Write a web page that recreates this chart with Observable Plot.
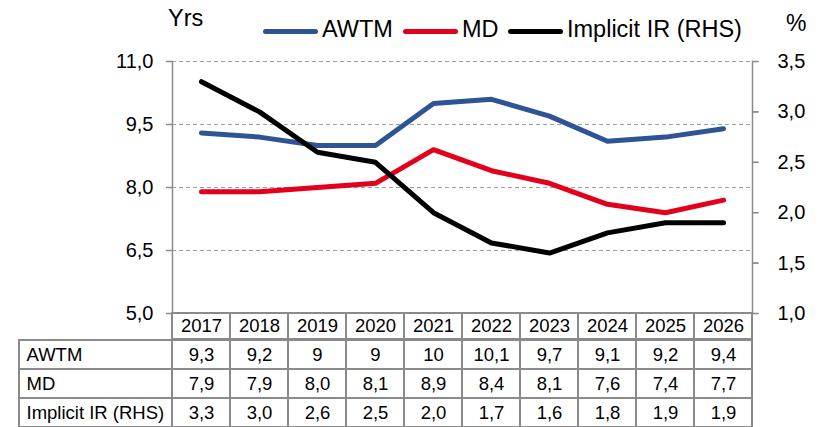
<!DOCTYPE html>
<html>
<head>
<meta charset="utf-8">
<script src="https://cdn.jsdelivr.net/npm/d3@7"></script>
<script src="https://cdn.jsdelivr.net/npm/@observablehq/plot@0.6"></script>
<style>
  html, body { margin: 0; padding: 0; background: white; }
  #wrap { position: relative; width: 823px; height: 427px; overflow: hidden; font-family: 'Liberation Sans', Arial, sans-serif; }
  #wrap svg { position: absolute; left: 0; }
  .lg { position: absolute; font-size: 23.5px; color: #000; line-height: 1; white-space: nowrap; }
  .sw { position: absolute; height: 5px; border-radius: 3px; }
</style>
</head>
<body>
<div id="wrap"></div>
<script>
const years = ["2017","2018","2019","2020","2021","2022","2023","2024","2025","2026"];
const awtm = [9.3, 9.2, 9, 9, 10, 10.1, 9.7, 9.1, 9.2, 9.4];
const md = [7.9, 7.9, 8.0, 8.1, 8.9, 8.4, 8.1, 7.6, 7.4, 7.7];
const ir = [3.3, 3.0, 2.6, 2.5, 2.0, 1.7, 1.6, 1.8, 1.9, 1.9];
const leftTicks = [5.0, 6.5, 8.0, 9.5, 11.0];
const rightTicks = [1.0, 1.5, 2.0, 2.5, 3.0, 3.5];
const seriesNames = ["AWTM", "MD", "Implicit IR (RHS)"];
const colors = ["#2E5496", "#E3001B", "#000000"];

const gray = "#8a8a8a";
const font = "'Liberation Sans', Arial, sans-serif";
const comma = v => v.toFixed(1).replace(".", ",");
// right axis (1..3.5) mapped onto left axis (5..11)
const toLeft = r => 5 + (r - 1) * 2.4;
const toRight = l => (l - 5) / 2.4 + 1;

const wrap = document.getElementById("wrap");

const rowsOf = (vals, name) => years.map((y, i) => ({year: y, v: vals[i], series: name}));
const dAWTM = rowsOf(awtm, "AWTM");
const dMD = rowsOf(md, "MD");
const dIR = rowsOf(ir, "Implicit IR (RHS)");

const main = Plot.plot({
  width: 823, height: 332,
  marginTop: 61, marginBottom: 19, marginLeft: 172, marginRight: 71,
  x: {type: "point", domain: years, padding: 0.5, axis: null},
  y: {domain: [5, 11]},
  style: {fontFamily: font, background: "transparent", color: "#000"},
  marks: [
    Plot.ruleY(leftTicks.filter(t => t > 5), {stroke: "#a0a0a0", strokeWidth: 1.2, strokeDasharray: "4,3"}),
    Plot.frame({anchor: "left", stroke: gray, strokeWidth: 1.5}),
    Plot.frame({anchor: "right", stroke: gray, strokeWidth: 1.5}),
    Plot.ruleY(leftTicks, {stroke: gray, strokeWidth: 1.5, insetLeft: -6, insetRight: 580}),
    Plot.ruleY(rightTicks.map(toLeft), {stroke: gray, strokeWidth: 1.5, insetLeft: 580, insetRight: -6}),
    Plot.axisY(leftTicks, {anchor: "left", tickSize: 6, tickPadding: 13, tickFormat: comma,
      fontSize: 20, stroke: gray, fill: "#000", label: null}),
    Plot.axisY(rightTicks.map(toLeft), {anchor: "right", tickSize: 6, tickPadding: 19,
      tickFormat: d => comma(toRight(d)), fontSize: 20, stroke: gray, fill: "#000", label: null}),
    Plot.line(dAWTM, {x: "year", y: "v", stroke: colors[0], strokeWidth: 5, strokeLinecap: "round", strokeLinejoin: "round"}),
    Plot.line(dMD, {x: "year", y: "v", stroke: colors[1], strokeWidth: 5, strokeLinecap: "round", strokeLinejoin: "round"}),
    Plot.line(dIR, {x: "year", y: d => toLeft(d.v), stroke: colors[2], strokeWidth: 5, strokeLinecap: "round", strokeLinejoin: "round"})
  ]
});
main.style.top = "0px";
wrap.appendChild(main);

// table header
const header = Plot.plot({
  width: 823, height: 28,
  marginTop: 1, marginBottom: 1, marginLeft: 172, marginRight: 71,
  x: {type: "band", domain: years, padding: 0, axis: null},
  style: {fontFamily: font, background: "transparent", color: "#000"},
  marks: [
    Plot.cell(years, {x: d => d, fill: "white", stroke: gray, strokeWidth: 2}),
    Plot.text(years, {x: d => d, text: d => d, fontSize: 18.5, fill: "#000"})
  ]
});
header.style.top = "312px";
wrap.appendChild(header);

// table body
const fmtAWTM = v => String(v).replace(".", ",");
const cells = [
  ...dAWTM.map(d => ({...d, label: fmtAWTM(d.v)})),
  ...dMD.map(d => ({...d, label: comma(d.v)})),
  ...dIR.map(d => ({...d, label: comma(d.v)}))
];
const body = Plot.plot({
  width: 823, height: 91,
  marginTop: 1, marginBottom: 1, marginLeft: 172, marginRight: 71,
  x: {type: "band", domain: years, padding: 0, axis: null},
  y: {type: "band", domain: seriesNames, padding: 0, axis: null},
  style: {fontFamily: font, background: "transparent", color: "#000"},
  marks: [
    Plot.cell(seriesNames, {y: d => d, fill: "white", stroke: gray, strokeWidth: 2, insetLeft: -153, insetRight: 580}),
    Plot.cell(cells, {x: "year", y: "series", fill: "white", stroke: gray, strokeWidth: 2}),
    Plot.text(cells, {x: "year", y: "series", text: "label", fontSize: 18.5, fill: "#000"}),
    Plot.text(seriesNames, {y: d => d, text: d => d, frameAnchor: "left", textAnchor: "start", dx: -146, fontSize: 18.5, fill: "#000"})
  ]
});
body.style.top = "338px";
wrap.appendChild(body);

// legend and unit labels (HTML)
function addText(txt, left, top, size) {
  const s = document.createElement("div");
  s.className = "lg";
  s.textContent = txt;
  s.style.left = left + "px";
  s.style.top = top + "px";
  if (size) s.style.fontSize = size + "px";
  wrap.appendChild(s);
}
function addSwatch(color, left, top, w) {
  const s = document.createElement("div");
  s.className = "sw";
  s.style.background = color;
  s.style.left = left + "px";
  s.style.top = top + "px";
  s.style.width = w + "px";
  wrap.appendChild(s);
}
addText("Yrs", 168, 7);
addText("%", 786, 12, 23);
const legendPos = [[263, 322], [403, 462], [508, 567]];
seriesNames.forEach((n, i) => {
  addSwatch(colors[i], legendPos[i][0], 28.5, 55);
  addText(n, legendPos[i][1], 18);
});
</script>
</body>
</html>
